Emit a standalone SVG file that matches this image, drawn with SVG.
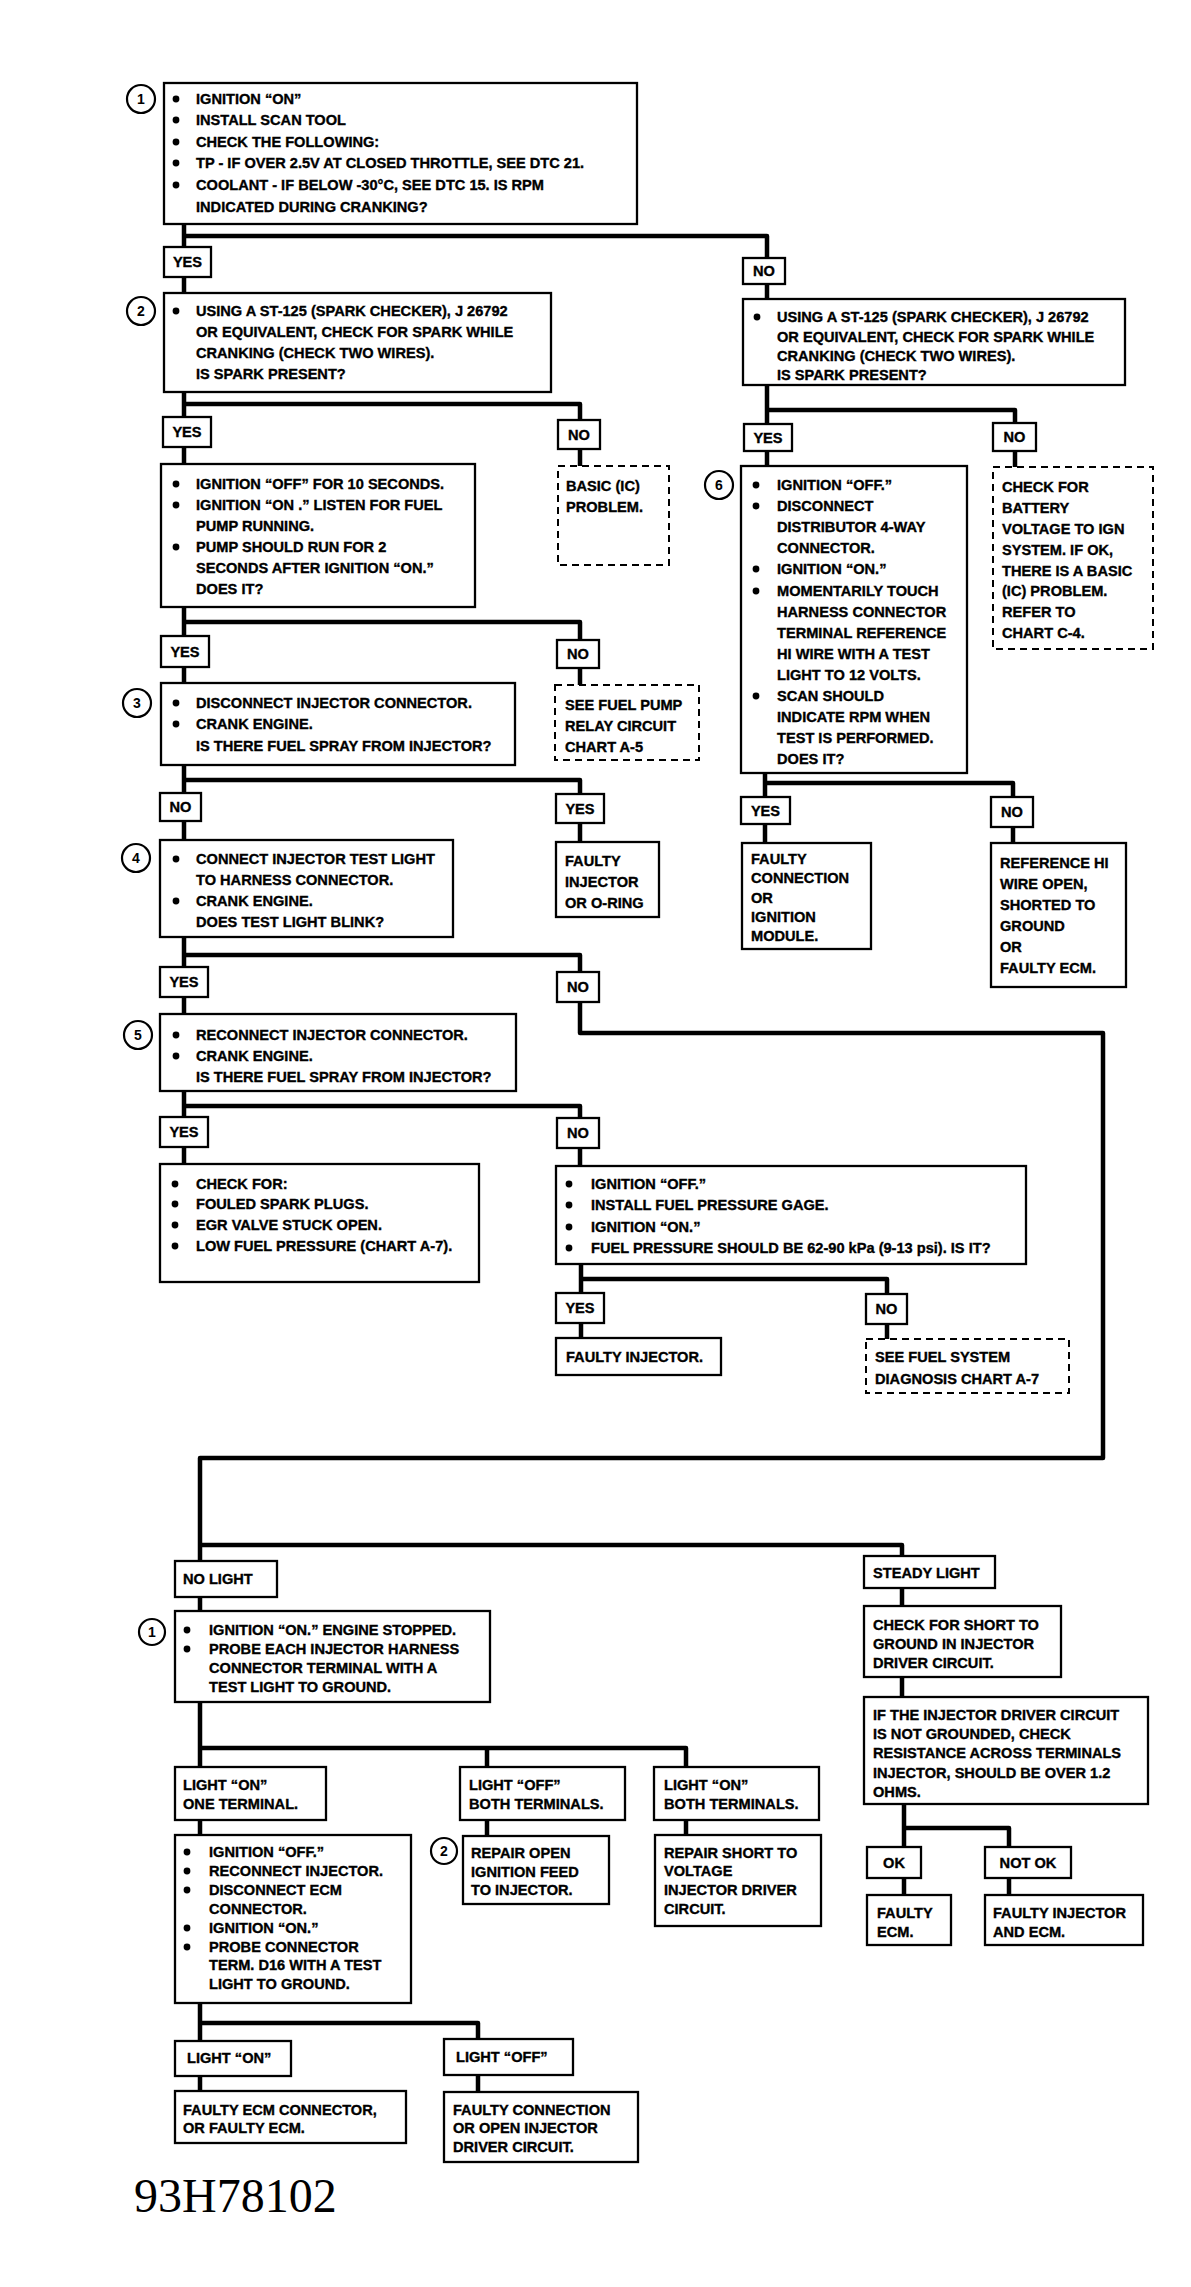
<svg xmlns="http://www.w3.org/2000/svg" width="1191" height="2287" viewBox="0 0 1191 2287">
<style>
.bx{fill:#fff;stroke:#000;stroke-width:2.3}
.ds{fill:#fff;stroke:#000;stroke-width:2;stroke-dasharray:7 5}
.cn{fill:none;stroke:#000;stroke-width:4.5;stroke-linejoin:round}
.t{font-family:"Liberation Sans",Arial,sans-serif;font-weight:bold;font-size:14.6px;fill:#000;stroke:#000;stroke-width:0.35}
.m{text-anchor:middle}
.bu{fill:#000}
.ci{fill:#fff;stroke:#000;stroke-width:2.2}
.num{font-family:"Liberation Sans",Arial,sans-serif;font-weight:bold;font-size:14px;text-anchor:middle}
.ft{font-family:"Liberation Serif","Times New Roman",serif;font-size:48px;fill:#000}
</style>
<rect width="1191" height="2287" fill="#fff"/>
<g id="connectors">
<path class="cn" d="M184 224V293M184 236H767V299M184 392V464M184 404H580V466M767 385V466M767 410H1015V467M184 607V683M184 622H580V685M765 773V843M765 783H1013V843M184 765V840M184 780H580V842M184 937V1014M184 955H580V1033H1103V1458H200V1611M200 1545H902V1606M902 1677V1697M184 1091V1164M184 1106H580V1166M581 1264V1338M581 1279H887V1339M200 1702V1835M200 1748H686V1835M487 1748V1836M200 2003V2091M200 2023H478V2092M904 1804V1895M904 1828H1009V1895"/>
</g>
<g id="n1">
<rect class="bx" x="164" y="83" width="473" height="141"/>
<circle class="ci" cx="141" cy="99" r="14"/><text class="num" x="141" y="104">1</text>
<circle class="bu" cx="176" cy="99" r="3.4"/><circle class="bu" cx="176" cy="120" r="3.4"/><circle class="bu" cx="176" cy="142" r="3.4"/><circle class="bu" cx="176" cy="163" r="3.4"/><circle class="bu" cx="176" cy="185" r="3.4"/>
<text class="t" x="196" y="104">IGNITION “ON”</text>
<text class="t" x="196" y="125">INSTALL SCAN TOOL</text>
<text class="t" x="196" y="147">CHECK THE FOLLOWING:</text>
<text class="t" x="196" y="168">TP - IF OVER 2.5V AT CLOSED THROTTLE, SEE DTC 21.</text>
<text class="t" x="196" y="190">COOLANT - IF BELOW -30°C, SEE DTC 15.  IS RPM</text>
<text class="t" x="196" y="212">INDICATED DURING CRANKING?</text>
</g>
<g id="yes1"><rect class="bx" x="164" y="247" width="47" height="30"/><text class="t m" x="187.5" y="267">YES</text></g>
<g id="no1"><rect class="bx" x="743" y="258" width="42" height="26"/><text class="t m" x="764" y="276">NO</text></g>
<g id="n2">
<rect class="bx" x="164" y="293" width="387" height="99"/>
<circle class="ci" cx="141" cy="311" r="14"/><text class="num" x="141" y="316">2</text>
<circle class="bu" cx="176" cy="311" r="3.4"/>
<text class="t" x="196" y="316">USING A ST-125 (SPARK CHECKER), J 26792</text>
<text class="t" x="196" y="337">OR EQUIVALENT, CHECK FOR SPARK WHILE</text>
<text class="t" x="196" y="358">CRANKING (CHECK TWO WIRES).</text>
<text class="t" x="196" y="379">IS SPARK PRESENT?</text>
</g>
<g id="n2r">
<rect class="bx" x="743" y="299" width="382" height="86"/>
<circle class="bu" cx="757" cy="317" r="3.4"/>
<text class="t" x="777" y="322">USING A ST-125 (SPARK CHECKER), J 26792</text>
<text class="t" x="777" y="342">OR EQUIVALENT, CHECK FOR SPARK WHILE</text>
<text class="t" x="777" y="361">CRANKING (CHECK TWO WIRES).</text>
<text class="t" x="777" y="380">IS SPARK PRESENT?</text>
</g>
<g id="yes2"><rect class="bx" x="163" y="417" width="48" height="30"/><text class="t m" x="187" y="437">YES</text></g>
<g id="no2"><rect class="bx" x="558" y="420" width="42" height="29"/><text class="t m" x="579" y="440">NO</text></g>
<g id="pump">
<rect class="bx" x="161" y="464" width="314" height="143"/>
<circle class="bu" cx="176" cy="484" r="3.4"/><circle class="bu" cx="176" cy="505" r="3.4"/><circle class="bu" cx="176" cy="547" r="3.4"/>
<text class="t" x="196" y="489">IGNITION “OFF” FOR 10 SECONDS.</text>
<text class="t" x="196" y="510">IGNITION “ON .”  LISTEN FOR FUEL</text>
<text class="t" x="196" y="531">PUMP RUNNING.</text>
<text class="t" x="196" y="552">PUMP SHOULD RUN FOR 2</text>
<text class="t" x="196" y="573">SECONDS AFTER IGNITION “ON.”</text>
<text class="t" x="196" y="594">DOES IT?</text>
</g>
<g id="basic">
<rect class="ds" x="558" y="466" width="111" height="99"/>
<text class="t" x="566" y="491">BASIC (IC)</text>
<text class="t" x="566" y="512">PROBLEM.</text>
</g>
<g id="yesr2"><rect class="bx" x="744" y="424" width="48" height="27"/><text class="t m" x="768" y="443">YES</text></g>
<g id="nor2"><rect class="bx" x="993" y="423" width="43" height="28"/><text class="t m" x="1014.5" y="442">NO</text></g>
<g id="n6">
<rect class="bx" x="741" y="466" width="226" height="307"/>
<circle class="ci" cx="719" cy="485" r="14"/><text class="num" x="719" y="490">6</text>
<circle class="bu" cx="756" cy="485" r="3.4"/><circle class="bu" cx="756" cy="506" r="3.4"/><circle class="bu" cx="756" cy="569" r="3.4"/><circle class="bu" cx="756" cy="591" r="3.4"/><circle class="bu" cx="756" cy="696" r="3.4"/>
<text class="t" x="777" y="490">IGNITION “OFF.”</text>
<text class="t" x="777" y="511">DISCONNECT</text>
<text class="t" x="777" y="532">DISTRIBUTOR 4-WAY</text>
<text class="t" x="777" y="553">CONNECTOR.</text>
<text class="t" x="777" y="574">IGNITION “ON.”</text>
<text class="t" x="777" y="596">MOMENTARILY TOUCH</text>
<text class="t" x="777" y="617">HARNESS CONNECTOR</text>
<text class="t" x="777" y="638">TERMINAL REFERENCE</text>
<text class="t" x="777" y="659">HI WIRE WITH A TEST</text>
<text class="t" x="777" y="680">LIGHT TO 12 VOLTS.</text>
<text class="t" x="777" y="701">SCAN SHOULD</text>
<text class="t" x="777" y="722">INDICATE RPM WHEN</text>
<text class="t" x="777" y="743">TEST IS PERFORMED.</text>
<text class="t" x="777" y="764">DOES IT?</text>
</g>
<g id="battery">
<rect class="ds" x="993" y="467" width="160" height="182"/>
<text class="t" x="1002" y="492">CHECK FOR</text>
<text class="t" x="1002" y="513">BATTERY</text>
<text class="t" x="1002" y="534">VOLTAGE TO IGN</text>
<text class="t" x="1002" y="555">SYSTEM.  IF OK,</text>
<text class="t" x="1002" y="576">THERE IS A BASIC</text>
<text class="t" x="1002" y="596">(IC) PROBLEM.</text>
<text class="t" x="1002" y="617">REFER TO</text>
<text class="t" x="1002" y="638">CHART C-4.</text>
</g>
<g id="yesr3"><rect class="bx" x="741" y="797" width="49" height="27"/><text class="t m" x="765.5" y="816">YES</text></g>
<g id="nor3"><rect class="bx" x="991" y="797" width="42" height="30"/><text class="t m" x="1012" y="817">NO</text></g>
<g id="faultyconn">
<rect class="bx" x="742" y="843" width="129" height="106"/>
<text class="t" x="751" y="864">FAULTY</text>
<text class="t" x="751" y="883">CONNECTION</text>
<text class="t" x="751" y="903">OR</text>
<text class="t" x="751" y="922">IGNITION</text>
<text class="t" x="751" y="941">MODULE.</text>
</g>
<g id="refhi">
<rect class="bx" x="991" y="843" width="135" height="144"/>
<text class="t" x="1000" y="868">REFERENCE HI</text>
<text class="t" x="1000" y="889">WIRE OPEN,</text>
<text class="t" x="1000" y="910">SHORTED TO</text>
<text class="t" x="1000" y="931">GROUND</text>
<text class="t" x="1000" y="952">OR</text>
<text class="t" x="1000" y="973">FAULTY ECM.</text>
</g>
<g id="yes3"><rect class="bx" x="161" y="636" width="48" height="31"/><text class="t m" x="185" y="657">YES</text></g>
<g id="no3"><rect class="bx" x="557" y="640" width="42" height="28"/><text class="t m" x="578" y="659">NO</text></g>
<g id="n3">
<rect class="bx" x="161" y="683" width="354" height="82"/>
<circle class="ci" cx="137" cy="703" r="14"/><text class="num" x="137" y="708">3</text>
<circle class="bu" cx="176" cy="703" r="3.4"/><circle class="bu" cx="176" cy="724" r="3.4"/>
<text class="t" x="196" y="708">DISCONNECT INJECTOR CONNECTOR.</text>
<text class="t" x="196" y="729">CRANK ENGINE.</text>
<text class="t" x="196" y="751">IS THERE FUEL SPRAY FROM INJECTOR?</text>
</g>
<g id="fuelpump">
<rect class="ds" x="555" y="685" width="144" height="75"/>
<text class="t" x="565" y="710">SEE FUEL PUMP</text>
<text class="t" x="565" y="731">RELAY CIRCUIT</text>
<text class="t" x="565" y="752">CHART A-5</text>
</g>
<g id="no4"><rect class="bx" x="160" y="793" width="41" height="28"/><text class="t m" x="180.5" y="812">NO</text></g>
<g id="yes4"><rect class="bx" x="556" y="794" width="48" height="29"/><text class="t m" x="580" y="814">YES</text></g>
<g id="n4">
<rect class="bx" x="160" y="840" width="293" height="97"/>
<circle class="ci" cx="136" cy="858" r="14"/><text class="num" x="136" y="863">4</text>
<circle class="bu" cx="176" cy="859" r="3.4"/><circle class="bu" cx="176" cy="901" r="3.4"/>
<text class="t" x="196" y="864">CONNECT INJECTOR TEST LIGHT</text>
<text class="t" x="196" y="885">TO HARNESS CONNECTOR.</text>
<text class="t" x="196" y="906">CRANK ENGINE.</text>
<text class="t" x="196" y="927">DOES TEST LIGHT BLINK?</text>
</g>
<g id="faultyinj">
<rect class="bx" x="556" y="842" width="103" height="75"/>
<text class="t" x="565" y="866">FAULTY</text>
<text class="t" x="565" y="887">INJECTOR</text>
<text class="t" x="565" y="908">OR O-RING</text>
</g>
<g id="yes5"><rect class="bx" x="160" y="967" width="48" height="30"/><text class="t m" x="184" y="987">YES</text></g>
<g id="no5"><rect class="bx" x="557" y="972" width="42" height="30"/><text class="t m" x="578" y="992">NO</text></g>
<g id="n5">
<rect class="bx" x="160" y="1014" width="356" height="77"/>
<circle class="ci" cx="138" cy="1035" r="14"/><text class="num" x="138" y="1040">5</text>
<circle class="bu" cx="176" cy="1035" r="3.4"/><circle class="bu" cx="176" cy="1056" r="3.4"/>
<text class="t" x="196" y="1040">RECONNECT INJECTOR CONNECTOR.</text>
<text class="t" x="196" y="1061">CRANK ENGINE.</text>
<text class="t" x="196" y="1082">IS THERE FUEL SPRAY FROM INJECTOR?</text>
</g>
<g id="yes6"><rect class="bx" x="160" y="1117" width="48" height="30"/><text class="t m" x="184" y="1137">YES</text></g>
<g id="no6"><rect class="bx" x="557" y="1118" width="42" height="30"/><text class="t m" x="578" y="1138">NO</text></g>
<g id="checkfor">
<rect class="bx" x="160" y="1164" width="319" height="118"/>
<circle class="bu" cx="175" cy="1184" r="3.4"/><circle class="bu" cx="175" cy="1204" r="3.4"/><circle class="bu" cx="175" cy="1225" r="3.4"/><circle class="bu" cx="175" cy="1246" r="3.4"/>
<text class="t" x="196" y="1189">CHECK FOR:</text>
<text class="t" x="196" y="1209">FOULED SPARK PLUGS.</text>
<text class="t" x="196" y="1230">EGR VALVE STUCK OPEN.</text>
<text class="t" x="196" y="1251">LOW FUEL PRESSURE (CHART A-7).</text>
</g>
<g id="gage">
<rect class="bx" x="556" y="1166" width="470" height="98"/>
<circle class="bu" cx="569" cy="1184" r="3.4"/><circle class="bu" cx="569" cy="1205" r="3.4"/><circle class="bu" cx="569" cy="1227" r="3.4"/><circle class="bu" cx="569" cy="1248" r="3.4"/>
<text class="t" x="591" y="1189">IGNITION “OFF.”</text>
<text class="t" x="591" y="1210">INSTALL FUEL PRESSURE GAGE.</text>
<text class="t" x="591" y="1232">IGNITION “ON.”</text>
<text class="t" x="591" y="1253">FUEL PRESSURE SHOULD BE 62-90 kPa (9-13 psi).  IS IT?</text>
</g>
<g id="yes7"><rect class="bx" x="556" y="1293" width="48" height="30"/><text class="t m" x="580" y="1313">YES</text></g>
<g id="no7"><rect class="bx" x="866" y="1294" width="41" height="30"/><text class="t m" x="886.5" y="1314">NO</text></g>
<g id="faultyinj2"><rect class="bx" x="556" y="1338" width="165" height="37"/><text class="t" x="566" y="1362">FAULTY INJECTOR.</text></g>
<g id="fuelsystem">
<rect class="ds" x="866" y="1339" width="203" height="54"/>
<text class="t" x="875" y="1362">SEE FUEL SYSTEM</text>
<text class="t" x="875" y="1384">DIAGNOSIS CHART A-7</text>
</g>
<g id="nolight"><rect class="bx" x="175" y="1561" width="102" height="36"/><text class="t" x="183" y="1584">NO LIGHT</text></g>
<g id="m1">
<rect class="bx" x="175" y="1611" width="315" height="91"/>
<circle class="ci" cx="152" cy="1632" r="13"/><text class="num" x="152" y="1637">1</text>
<circle class="bu" cx="187" cy="1630" r="3.4"/><circle class="bu" cx="187" cy="1649" r="3.4"/>
<text class="t" x="209" y="1635">IGNITION “ON.”  ENGINE STOPPED.</text>
<text class="t" x="209" y="1654">PROBE EACH INJECTOR HARNESS</text>
<text class="t" x="209" y="1673">CONNECTOR TERMINAL WITH A</text>
<text class="t" x="209" y="1692">TEST LIGHT TO GROUND.</text>
</g>
<g id="lightonone">
<rect class="bx" x="175" y="1767" width="151" height="53"/>
<text class="t" x="183" y="1790">LIGHT “ON”</text>
<text class="t" x="183" y="1809">ONE TERMINAL.</text>
</g>
<g id="lightoffboth">
<rect class="bx" x="460" y="1767" width="165" height="53"/>
<text class="t" x="469" y="1790">LIGHT “OFF”</text>
<text class="t" x="469" y="1809">BOTH TERMINALS.</text>
</g>
<g id="lightonboth">
<rect class="bx" x="654" y="1767" width="165" height="53"/>
<text class="t" x="664" y="1790">LIGHT “ON”</text>
<text class="t" x="664" y="1809">BOTH TERMINALS.</text>
</g>
<g id="probe">
<rect class="bx" x="175" y="1835" width="236" height="168"/>
<circle class="bu" cx="187" cy="1852" r="3.4"/><circle class="bu" cx="187" cy="1871" r="3.4"/><circle class="bu" cx="187" cy="1890" r="3.4"/><circle class="bu" cx="187" cy="1928" r="3.4"/><circle class="bu" cx="187" cy="1947" r="3.4"/>
<text class="t" x="209" y="1857">IGNITION “OFF.”</text>
<text class="t" x="209" y="1876">RECONNECT INJECTOR.</text>
<text class="t" x="209" y="1895">DISCONNECT ECM</text>
<text class="t" x="209" y="1914">CONNECTOR.</text>
<text class="t" x="209" y="1933">IGNITION “ON.”</text>
<text class="t" x="209" y="1952">PROBE CONNECTOR</text>
<text class="t" x="209" y="1970">TERM. D16 WITH A TEST</text>
<text class="t" x="209" y="1989">LIGHT TO GROUND.</text>
</g>
<g id="repairopen">
<rect class="bx" x="463" y="1836" width="146" height="68"/>
<circle class="ci" cx="444" cy="1851" r="13"/><text class="num" x="444" y="1856">2</text>
<text class="t" x="471" y="1858">REPAIR OPEN</text>
<text class="t" x="471" y="1877">IGNITION FEED</text>
<text class="t" x="471" y="1895">TO INJECTOR.</text>
</g>
<g id="repairshort">
<rect class="bx" x="655" y="1835" width="166" height="91"/>
<text class="t" x="664" y="1858">REPAIR SHORT TO</text>
<text class="t" x="664" y="1876">VOLTAGE</text>
<text class="t" x="664" y="1895">INJECTOR DRIVER</text>
<text class="t" x="664" y="1914">CIRCUIT.</text>
</g>
<g id="lighton"><rect class="bx" x="175" y="2041" width="116" height="35"/><text class="t" x="187" y="2063">LIGHT “ON”</text></g>
<g id="lightoff"><rect class="bx" x="444" y="2039" width="129" height="36"/><text class="t" x="456" y="2062">LIGHT “OFF”</text></g>
<g id="faultyecmconn">
<rect class="bx" x="175" y="2091" width="231" height="52"/>
<text class="t" x="183" y="2115">FAULTY ECM CONNECTOR,</text>
<text class="t" x="183" y="2133">OR FAULTY ECM.</text>
</g>
<g id="faultyopen">
<rect class="bx" x="444" y="2092" width="194" height="70"/>
<text class="t" x="453" y="2115">FAULTY CONNECTION</text>
<text class="t" x="453" y="2133">OR OPEN INJECTOR</text>
<text class="t" x="453" y="2152">DRIVER CIRCUIT.</text>
</g>
<g id="steady"><rect class="bx" x="864" y="1556" width="131" height="32"/><text class="t" x="873" y="1578">STEADY LIGHT</text></g>
<g id="shortgnd">
<rect class="bx" x="864" y="1606" width="197" height="71"/>
<text class="t" x="873" y="1630">CHECK FOR SHORT TO</text>
<text class="t" x="873" y="1649">GROUND IN INJECTOR</text>
<text class="t" x="873" y="1668">DRIVER CIRCUIT.</text>
</g>
<g id="resist">
<rect class="bx" x="864" y="1697" width="284" height="107"/>
<text class="t" x="873" y="1720">IF THE INJECTOR DRIVER CIRCUIT</text>
<text class="t" x="873" y="1739">IS NOT GROUNDED, CHECK</text>
<text class="t" x="873" y="1758">RESISTANCE ACROSS TERMINALS</text>
<text class="t" x="873" y="1778">INJECTOR,  SHOULD BE OVER 1.2</text>
<text class="t" x="873" y="1797">OHMS.</text>
</g>
<g id="ok"><rect class="bx" x="867" y="1847" width="54" height="31"/><text class="t m" x="894" y="1868">OK</text></g>
<g id="notok"><rect class="bx" x="985" y="1847" width="86" height="31"/><text class="t m" x="1028" y="1868">NOT OK</text></g>
<g id="faultyecm">
<rect class="bx" x="867" y="1895" width="84" height="50"/>
<text class="t" x="877" y="1918">FAULTY</text>
<text class="t" x="877" y="1937">ECM.</text>
</g>
<g id="faultyinjecm">
<rect class="bx" x="985" y="1895" width="158" height="50"/>
<text class="t" x="993" y="1918">FAULTY INJECTOR</text>
<text class="t" x="993" y="1937">AND ECM.</text>
</g>
<text class="ft" x="134" y="2212">93H78102</text>
</svg>
